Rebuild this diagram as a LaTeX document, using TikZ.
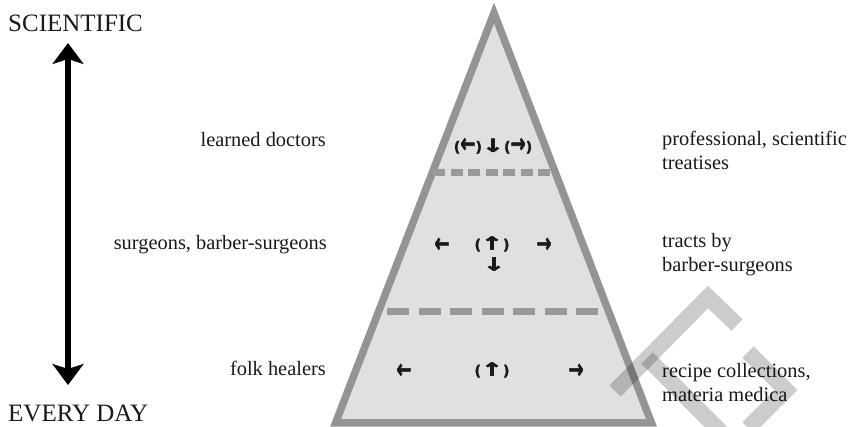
\documentclass[tikz,border=0pt]{standalone}
\usepackage{fontspec}
\usepackage{graphicx}
\setmainfont{Liberation Serif}
\newfontfamily\arrowfont[FakeBold=2.5]{DejaVu Sans Bold}
\newfontfamily\parenfont[FakeBold=1]{DejaVu Sans Bold}
\usetikzlibrary{arrows.meta}
\definecolor{edgegray}{gray}{0.58}
\definecolor{fillgray}{gray}{0.88}
\definecolor{dashgray}{gray}{0.6}
\definecolor{inkblack}{gray}{0.1}
\newcommand{\myarh}[1]{\raisebox{-0.5pt}{\scalebox{1}[1.45]{\arrowfont\fontsize{18}{18}\selectfont #1}}}
\newcommand{\myarv}[1]{\scalebox{1.45}[1]{\arrowfont\fontsize{18}{18}\selectfont #1}}
\newcommand{\mypar}[1]{{\parenfont\fontsize{14.5}{14.5}\selectfont #1}}
\tikzset{
  lbl/.style={inner sep=0pt, text=inkblack, font=\fontsize{20.4}{24}\selectfont},
  big/.style={inner sep=0pt, text=inkblack, font=\fontsize{25}{28}\selectfont},
  arr/.style={inner sep=0pt, text=inkblack},
  divider/.style={draw=dashgray, line width=7pt},
  wmark/.style={draw=black, opacity=0.2, line width=16pt, line join=miter},
}
\begin{document}
\begin{tikzpicture}[x=1pt,y=-1pt]
\useasboundingbox (0,0) rectangle (849,427);
% pyramid
\coordinate (apex) at (494,13);
\coordinate (bl) at (335.5,423);
\coordinate (br) at (651.5,423);
\draw[draw=edgegray, fill=fillgray, line width=7.5pt, line join=miter] (apex) -- (bl) -- (br) -- cycle;
% dividers
\coordinate (d1a) at (433,173);
\coordinate (d1b) at (550,173);
\coordinate (d2a) at (387,312);
\coordinate (d2b) at (598,312);
\draw[divider, dash pattern=on 12pt off 5.5pt] (d1a) -- (d1b);
\draw[divider, dash pattern=on 22pt off 9.5pt] (d2a) -- (d2b);
% arrows inside
\node[arr] (t1) at (493,146) {\mypar{(}\myarh{←}\mypar{)}\myarv{↓}\mypar{(}\myarh{→}\mypar{)}};
\node[arr] (m1) at (442,245) {\myarh{←}};
\node[arr] (m2) at (492,244) {\mypar{(}\myarv{↑}\mypar{)}};
\node[arr] (m3) at (544,245) {\myarh{→}};
\node[arr] (m4) at (494,264) {\myarv{↓}};
\node[arr] (b1) at (404,371) {\myarh{←}};
\node[arr] (b2) at (492,370) {\mypar{(}\myarv{↑}\mypar{)}};
\node[arr] (b3) at (576,371) {\myarh{→}};
% scale arrow
\node[big, anchor=base west] (sci) at (8,32) {SCIENTIFIC};
\node[big, anchor=base west] (every) at (8,422) {EVERY DAY};
\coordinate (st) at (68,43);
\coordinate (sb) at (68,385);
\draw[line width=5.5pt, black, {Stealth[length=21pt,width=31pt,inset=5pt]}-{Stealth[length=21pt,width=31pt,inset=5pt]}] (st) -- (sb);
% left labels
\node[lbl, anchor=base east] (l1) at (326,147) {learned doctors};
\node[lbl, anchor=base east] (l2) at (327,250) {surgeons, barber-surgeons};
\node[lbl, anchor=base east] (l3) at (326,376) {folk healers};
% right labels
\node[lbl, anchor=base west] (r1a) at (662,146) {professional, scientific};
\node[lbl, anchor=base west] (r1b) at (662,170) {treatises};
\node[lbl, anchor=base west] (r2a) at (662,248) {tracts by};
\node[lbl, anchor=base west] (r2b) at (662,272) {barber-surgeons};
\node[lbl, anchor=base west] (r3a) at (662,378) {recipe collections,};
\node[lbl, anchor=base west] (r3b) at (662,402) {materia medica};
% watermark
\begin{scope}
\clip (0,0) rectangle (849,427);
\draw[wmark] (615,391) -- (708,297) -- (737,325);
\draw[wmark] (647,358) -- (740,451);
\draw[wmark] (748,352) -- (786,390) -- (748,428);
\end{scope}
\end{tikzpicture}
\end{document}
